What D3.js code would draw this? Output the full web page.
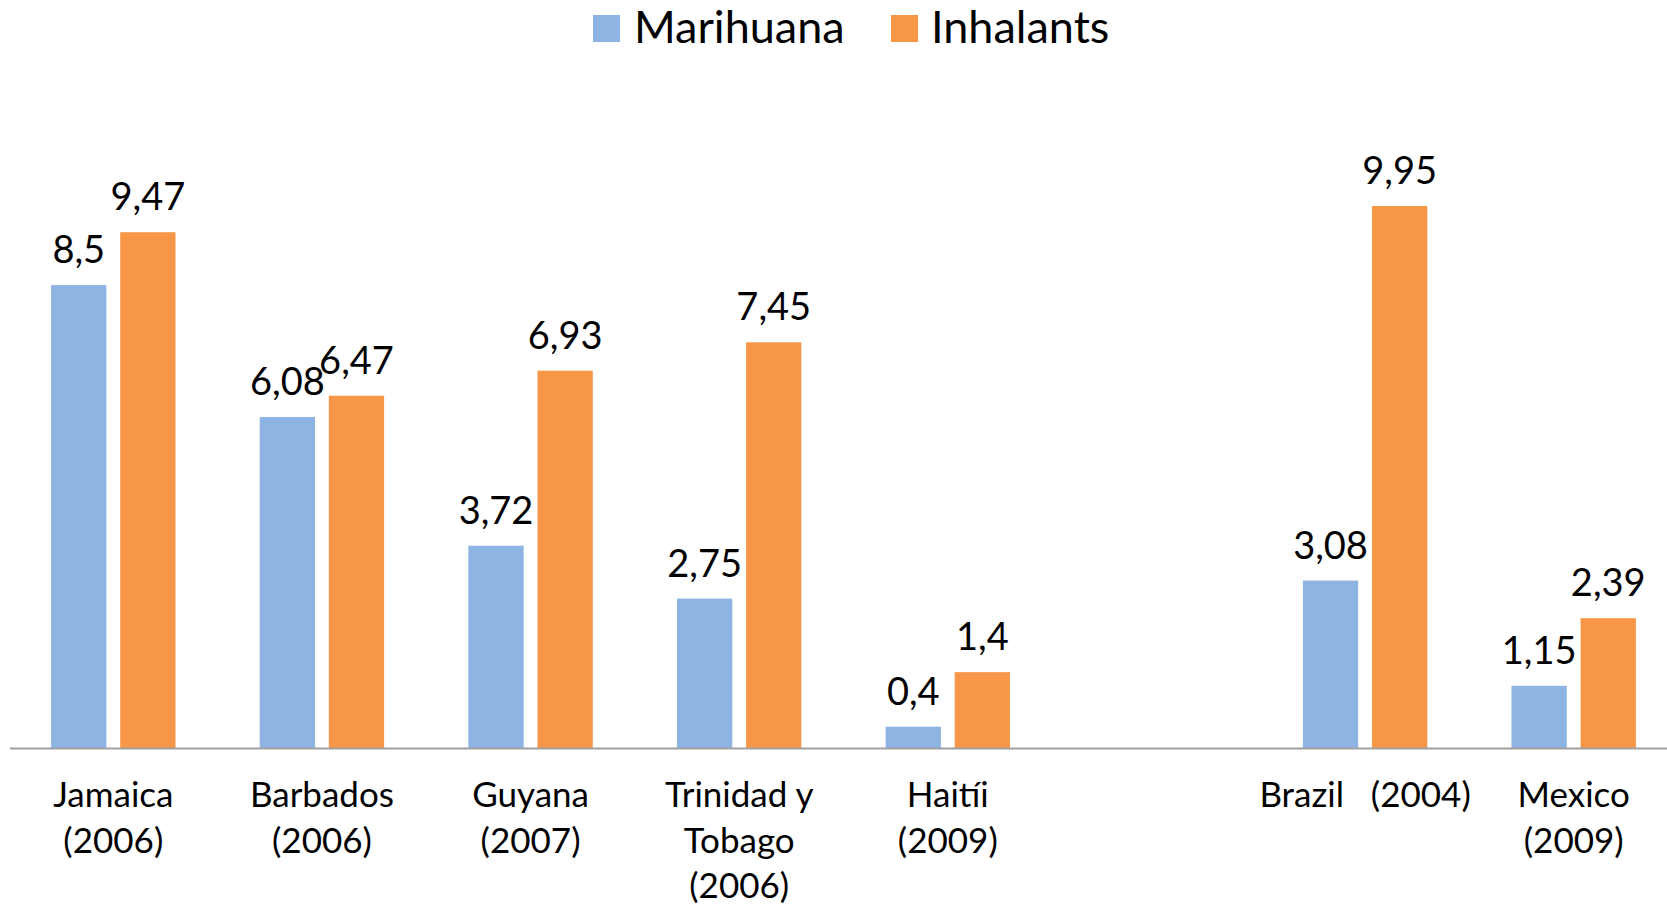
<!DOCTYPE html>
<html>
<head>
<meta charset="utf-8">
<script src="https://cdn.jsdelivr.net/npm/d3@7"></script>
<style>
  html, body { margin: 0; padding: 0; background: #ffffff; }
  svg { display: block; }
  text { font-family: Lato, "Open Sans", sans-serif; fill: #000000; }
</style>
</head>
<body>
<svg id="chart" width="1667" height="904"></svg>
<script>
// Categories (country + survey year); one empty slot separates the two groups
const categories = [
  ["Jamaica", "(2006)"],
  ["Barbados", "(2006)"],
  ["Guyana", "(2007)"],
  ["Trinidad y", "Tobago", "(2006)"],
  ["Haitíi", "(2009)"],
  [],
  ["Brazil   (2004)"],
  ["Mexico", "(2009)"]
];
const seriesNames = ["Marihuana", "Inhalants"];
const marihuana = [8.5, 6.08, 3.72, 2.75, 0.4, null, 3.08, 1.15];
const inhalants = [9.47, 6.47, 6.93, 7.45, 1.4, null, 9.95, 2.39];
const valueLabels = {
  Marihuana: ["8,5", "6,08", "3,72", "2,75", "0,4", null, "3,08", "1,15"],
  Inhalants: ["9,47", "6,47", "6,93", "7,45", "1,4", null, "9,95", "2,39"]
};
const colors = { Marihuana: "#8EB4E3", Inhalants: "#F79646" };

const svg = d3.select("#chart");
const baseY = 748.5;

const x0 = d3.scaleBand()
  .domain(d3.range(categories.length))
  .range([9, 1678])
  .paddingInner(0)
  .paddingOuter(0);

const groupW = 124.4;
const x1 = d3.scaleBand()
  .domain(seriesNames)
  .range([(x0.step() - groupW) / 2, (x0.step() + groupW) / 2])
  .paddingInner(0.2)
  .paddingOuter(0);

const y = d3.scaleLinear().domain([0, 10]).range([baseY, baseY - 545.2]);

const rows = categories.map((c, i) => ({
  i,
  Marihuana: marihuana[i],
  Inhalants: inhalants[i]
}));

const groups = svg.append("g").selectAll("g")
  .data(rows)
  .join("g")
  .attr("transform", d => `translate(${x0(d.i)},0)`);

const cells = groups.selectAll("g")
  .data(d => seriesNames.filter(s => d[s] != null).map(s => ({ s, v: d[s], i: d.i })))
  .join("g");

cells.append("rect")
  .attr("x", d => x1(d.s))
  .attr("width", x1.bandwidth())
  .attr("y", d => y(d.v))
  .attr("height", d => y(0) - y(d.v))
  .attr("fill", d => colors[d.s]);

cells.append("text")
  .attr("x", d => x1(d.s) + x1.bandwidth() / 2)
  .attr("y", d => y(d.v) - 22)
  .attr("text-anchor", "middle")
  .style("font-size", "38px")
  .text(d => valueLabels[d.s][d.i]);

// Category axis line
svg.append("line")
  .attr("x1", 10).attr("x2", 1667)
  .attr("y1", baseY).attr("y2", baseY)
  .attr("stroke", "#A0A0A0")
  .attr("stroke-width", 2);

// Category labels (multi-line)
const catText = svg.append("g").selectAll("text")
  .data(categories)
  .join("text")
  .attr("text-anchor", "middle")
  .attr("x", (d, i) => x0(i) + x0.step() / 2)
  .attr("y", 807)
  .style("font-size", "35px");

catText.selectAll("tspan")
  .data(d => d)
  .join("tspan")
  .attr("x", function () { return this.parentNode.getAttribute("x"); })
  .attr("dy", (d, j) => j === 0 ? 0 : 45.5)
  .style("white-space", "pre")
  .attr("xml:space", "preserve")
  .text(d => d);

// Legend
const legendItems = [
  { name: "Marihuana", sx: 593, tx: 634 },
  { name: "Inhalants", sx: 891, tx: 931 }
];
const lg = svg.append("g").selectAll("g").data(legendItems).join("g");
lg.append("rect")
  .attr("x", d => d.sx).attr("y", 15)
  .attr("width", 27).attr("height", 27)
  .attr("fill", d => colors[d.name]);
lg.append("text")
  .attr("x", d => d.tx).attr("y", 43)
  .style("font-size", "45px")
  .text(d => d.name);
</script>
</body>
</html>
